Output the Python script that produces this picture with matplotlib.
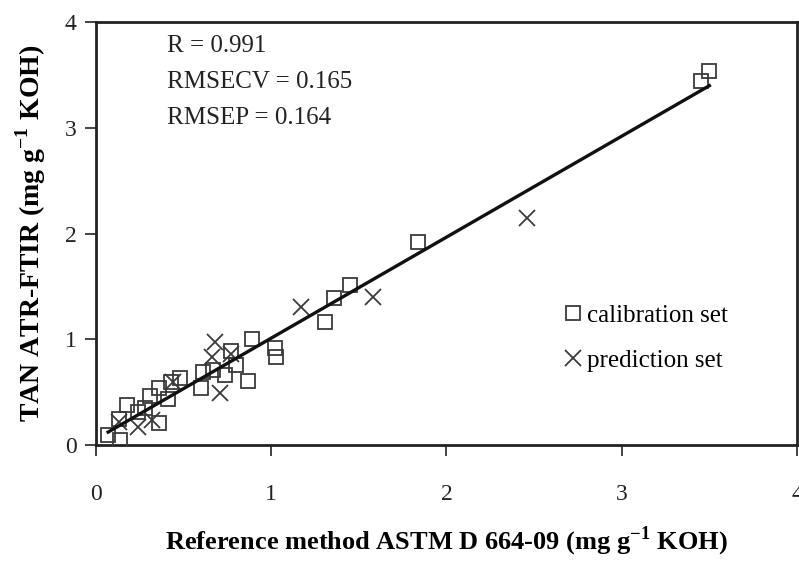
import numpy as np
import matplotlib.pyplot as plt
import matplotlib as mpl
from matplotlib.ticker import MultipleLocator

mpl.rcParams['font.family'] = 'Liberation Serif'
mpl.rcParams['mathtext.fontset'] = 'custom'
mpl.rcParams['mathtext.rm'] = 'Liberation Serif'
mpl.rcParams['mathtext.bf'] = 'Liberation Serif:bold'

# calibration set (squares)
cal_x = [0.07, 0.14, 0.13, 0.18, 0.24, 0.28, 0.31, 0.36, 0.36, 0.41, 0.43, 0.48, 0.60, 0.61,
         0.67, 0.735, 0.77, 0.80, 0.87, 0.89, 1.02, 1.03, 1.31, 1.36, 1.45, 1.84, 3.45, 3.50]
cal_y = [0.10, 0.05, 0.25, 0.38, 0.31, 0.35, 0.46, 0.21, 0.54, 0.44, 0.60, 0.63, 0.54, 0.69,
         0.71, 0.66, 0.89, 0.76, 0.61, 1.00, 0.92, 0.83, 1.16, 1.39, 1.51, 1.92, 3.44, 3.54]
# prediction set (crosses)
pred_x = [0.13, 0.24, 0.32, 0.44, 0.66, 0.68, 0.71, 0.77, 1.17, 1.58, 2.46]
pred_y = [0.22, 0.17, 0.24, 0.60, 0.83, 0.97, 0.49, 0.86, 1.31, 1.40, 2.15]

stats = ['R = 0.991', 'RMSECV = 0.165', 'RMSEP = 0.164']

fig = plt.figure(figsize=(7.99, 5.62), dpi=100)
ax = fig.add_axes([0.120, 0.208, 0.8775, 0.753])

mk_col = '#3a3a3a'
ax.plot(cal_x, cal_y, 's', markersize=10, markerfacecolor='none', markeredgecolor=mk_col,
        markeredgewidth=1.3, label='calibration set', zorder=3)
ax.plot(pred_x, pred_y, 'x', markersize=11, color=mk_col, markeredgewidth=1.3,
        label='prediction set', zorder=3)

# regression line
all_x = np.array(cal_x + pred_x)
all_y = np.array(cal_y + pred_y)
k, b = np.polyfit(all_x, all_y, 1)
xx = np.array([all_x.min(), all_x.max()])
ax.plot(xx, k * xx + b, '-', color='#111111', linewidth=2.4, zorder=4)

ax.set_xlim(0, 4)
ax.set_ylim(0, 4)
ax.xaxis.set_major_locator(MultipleLocator(1))
ax.yaxis.set_major_locator(MultipleLocator(1))
ax.tick_params(direction='out', length=8, width=1.2, labelsize=17, pad=20, colors='#222222')
ax.tick_params(axis='y', pad=6)
for spine in ax.spines.values():
    spine.set_linewidth(2)
    spine.set_color('#222222')

ax.set_xlabel('Reference method ASTM D 664-09 (mg g$^{\\mathbf{-1}}$ KOH)', fontsize=19,
              fontweight='bold', labelpad=14)
ax.set_ylabel('TAN ATR-FTIR (mg g$^{\\mathbf{-1}}$ KOH)', fontsize=20, fontweight='bold',
              labelpad=12)

for i, s in enumerate(stats):
    ax.text(0.101, 0.944 - i * 0.086, s, transform=ax.transAxes, fontsize=18,
            va='center', ha='left', color='#222222')

ax.legend(loc='upper left', bbox_to_anchor=(0.652, 0.357), frameon=False, fontsize=18,
          handlelength=0.8, handletextpad=0.15, labelspacing=0.9, borderaxespad=0)

plt.savefig('out.png', dpi=100)
